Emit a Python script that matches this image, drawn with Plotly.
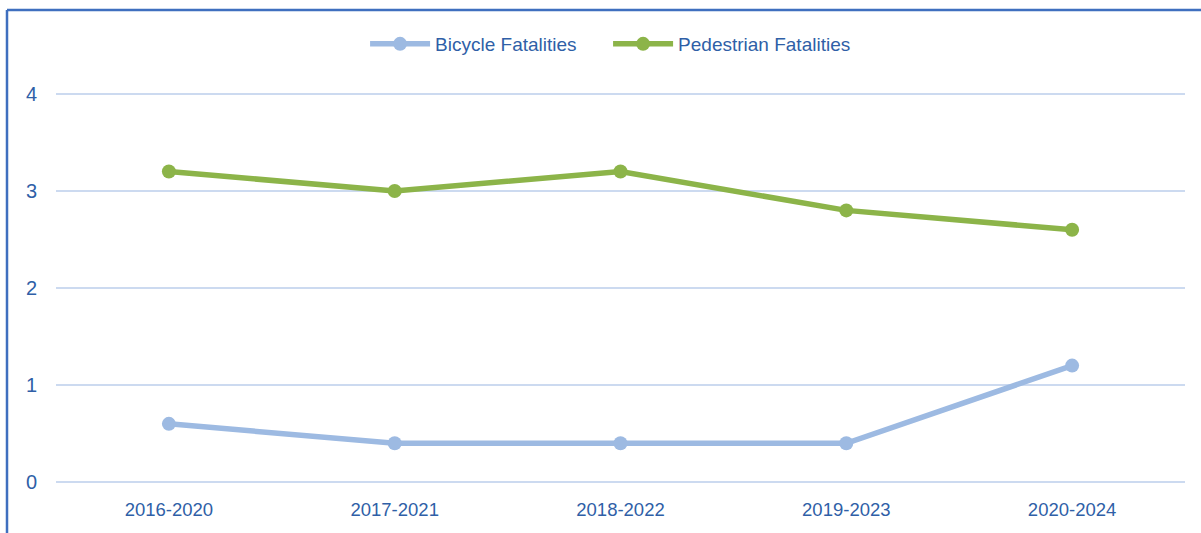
import plotly.graph_objects as go

periods = ["2016-2020", "2017-2021", "2018-2022", "2019-2023", "2020-2024"]
bicycle_fatalities = [0.6, 0.4, 0.4, 0.4, 1.2]
pedestrian_fatalities = [3.2, 3.0, 3.2, 2.8, 2.6]

BIKE = "#9DBAE2"
PED = "#8CB449"
TEXT = "#2F5FA7"
GRID = "#CCDAF0"
FRAME = "#3F6FBF"
NARROW = "Liberation Sans Narrow, Arial Narrow, Liberation Sans, Arial, sans-serif"

fig = go.Figure()
fig.add_trace(go.Scatter(
    x=periods, y=bicycle_fatalities, name="Bicycle Fatalities",
    mode="lines+markers", line=dict(color=BIKE, width=5.5),
    marker=dict(color=BIKE, size=14),
))
fig.add_trace(go.Scatter(
    x=periods, y=pedestrian_fatalities, name="Pedestrian Fatalities",
    mode="lines+markers", line=dict(color=PED, width=5.5),
    marker=dict(color=PED, size=14),
))

L, R, T, B = 56, 16, 92, 49
W, H = 1201, 533
pw, ph = W - L - R, H - T - B

fig.update_layout(
    width=W, height=H,
    margin=dict(l=L, r=R, t=T, b=B),
    paper_bgcolor="white", plot_bgcolor="white",
    showlegend=True,
    legend=dict(
        orientation="h", x=0.489, xanchor="center",
        y=1 + (T - 44) / ph, yanchor="middle",
        font=dict(family=NARROW, size=19, color=TEXT),
        itemwidth=60, entrywidth=168, tracegroupgap=0,
    ),
    xaxis=dict(
        type="category", range=[-0.5, 4.5],
        showgrid=False, zeroline=False, showline=False,
        ticks="", tickfont=dict(family="Liberation Sans, Arial, sans-serif", size=18.5, color=TEXT),
        ticklabelstandoff=12,
    ),
    yaxis=dict(
        range=[-0.02, 4.02], tickvals=[0, 1, 2, 3, 4],
        showgrid=True, gridcolor=GRID, gridwidth=2,
        zeroline=False, showline=False, ticks="",
        tickfont=dict(family=NARROW, size=20, color=TEXT),
        ticklabelstandoff=18,
    ),
    shapes=[
        dict(type="line", xref="paper", yref="paper",
             x0=(7 - L) / pw, x1=(W - L) / pw,
             y0=1 + (T - 10) / ph, y1=1 + (T - 10) / ph,
             line=dict(color=FRAME, width=2.5)),
        dict(type="line", xref="paper", yref="paper",
             x0=(7 - L) / pw, x1=(7 - L) / pw,
             y0=1 + (T - 10) / ph, y1=-B / ph,
             line=dict(color=FRAME, width=2.5)),
    ],
)

fig.write_html("out.html")
